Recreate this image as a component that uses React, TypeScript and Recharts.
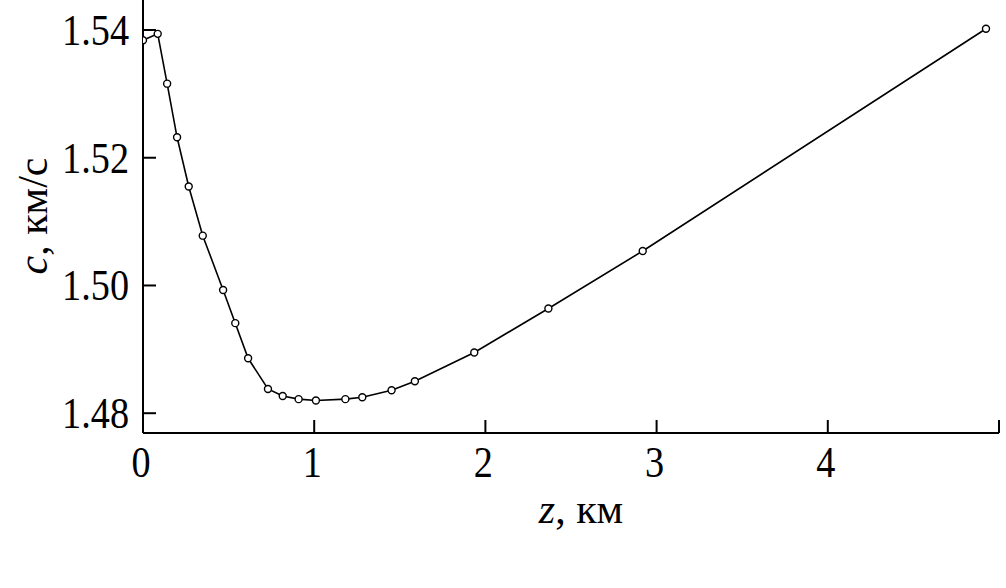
import React from 'react';
import { LineChart, Line, XAxis, YAxis } from 'recharts';

// глубина z, км
const depth = [
  0.0, 0.086, 0.141, 0.199, 0.267, 0.349, 0.468, 0.539, 0.614, 0.73, 0.816,
  0.909, 1.01, 1.182, 1.281, 1.452, 1.588, 1.935, 2.368, 2.919, 4.924,
];

// скорость звука c, км/с
const speed = [
  1.5384, 1.5394, 1.5316, 1.5232, 1.5155, 1.5078, 1.4993, 1.4941, 1.4886,
  1.4838, 1.4827, 1.4822, 1.482, 1.4822, 1.4825, 1.4836, 1.485, 1.4895,
  1.4964, 1.5054, 1.5402,
];

const xTicks = [0, 1, 2, 3, 4, 5];
const xLabels = ['0', '1', '2', '3', '4', ''];
const yTicks = [1.48, 1.5, 1.52, 1.54];

const data = depth.map((z, i) => ({ z, c: speed[i] }));

const FONT = '"Liberation Serif", "Times New Roman", serif';
const TICK_LEN = 13;
const Y_MARGIN = 14;
const X_MARGIN = 10;

const YTick = (props: any) => {
  const { x, y, payload } = props;
  const axisX = x + Y_MARGIN;
  return (
    <g>
      <line x1={axisX} x2={axisX + TICK_LEN} y1={y} y2={y} stroke="#000" strokeWidth={2} />
      <text
        transform={`translate(${x}, ${y + 15}) scale(0.85, 1)`}
        textAnchor="end"
        fontFamily={FONT}
        fontSize={45}
        fill="#000"
      >
        {payload.value.toFixed(2)}
      </text>
    </g>
  );
};

const XTick = (props: any) => {
  const { x, y, payload } = props;
  const axisY = y - X_MARGIN;
  const label = xLabels[xTicks.indexOf(payload.value)];
  return (
    <g>
      <line x1={x} x2={x} y1={axisY} y2={axisY - TICK_LEN} stroke="#000" strokeWidth={2} />
      <text
        transform={`translate(${x - 2}, ${axisY + 44}) scale(0.85, 1)`}
        textAnchor="middle"
        fontFamily={FONT}
        fontSize={45}
        fill="#000"
      >
        {label}
      </text>
    </g>
  );
};

const YTitle = () => (
  <text
    x={47}
    y={216}
    transform="rotate(-90, 47, 216)"
    textAnchor="middle"
    fontFamily={FONT}
    fontSize={42}
    fill="#000"
  >
    <tspan fontStyle="italic">c</tspan>
    <tspan>, км/с</tspan>
  </text>
);

const XTitle = () => (
  <text x={581} y={523} textAnchor="middle" fontFamily={FONT} fontSize={42} fill="#000">
    <tspan fontStyle="italic">z</tspan>
    <tspan>, км</tspan>
  </text>
);

export default function App() {
  return (
    <div style={{ position: 'absolute', left: 0, top: 0, width: 1006, height: 588, background: '#fff' }}>
      <LineChart width={1006} height={588} data={data} margin={{ top: 0, right: 7, bottom: 95, left: 0 }}>
        <XAxis
          dataKey="z"
          type="number"
          domain={[0, 5]}
          ticks={xTicks}
          interval={0}
          height={60}
          tickSize={0}
          tickMargin={X_MARGIN}
          tick={<XTick />}
          axisLine={{ stroke: '#000', strokeWidth: 2 }}
          allowDataOverflow
        />
        <YAxis
          dataKey="c"
          type="number"
          domain={[1.4769, 1.5447]}
          ticks={yTicks}
          interval={0}
          width={143}
          tickSize={0}
          tickMargin={Y_MARGIN}
          tick={<YTick />}
          axisLine={{ stroke: '#000', strokeWidth: 2 }}
          allowDataOverflow
        />
        <Line
          type="linear"
          dataKey="c"
          stroke="#000"
          strokeWidth={1.6}
          dot={{ r: 3.5, stroke: '#000', strokeWidth: 1.4, fill: '#fff' }}
          isAnimationActive={false}
        />
        <YTitle />
        <XTitle />
      </LineChart>
    </div>
  );
}
